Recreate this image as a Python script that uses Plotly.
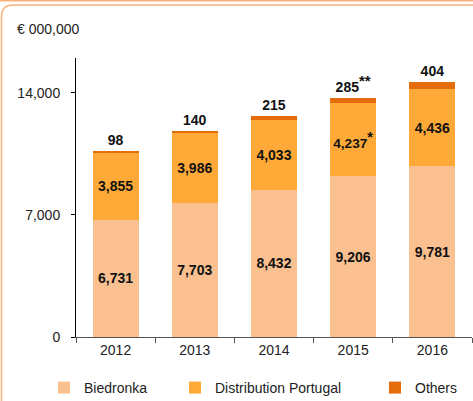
import plotly.graph_objects as go

years = ["2012", "2013", "2014", "2015", "2016"]
biedronka = [6731, 7703, 8432, 9206, 9781]
distribution_portugal = [3855, 3986, 4033, 4237, 4436]
others = [98, 140, 215, 285, 404]
dp_notes = ["", "", "", "*", ""]
others_notes = ["", "", "", "**", ""]
y_ticks = [0, 7000, 14000]
unit_label = "€ 000,000"

C_BIED = "#FAC090"
C_DP = "#FFAA38"
C_OTH = "#E46C0A"
FRAME = "#F9B27B"
FONT = "Liberation Sans, Arial, sans-serif"

W, H = 473, 401
ML, MR, MT, MB = 76, 1, 58, 64
PW, PH = W - ML - MR, H - MT - MB

def px(x):
    return (x - ML) / PW

def py(y):
    return (H - MB - y) / PH

def note(n):
    return f"<sup><span style='font-size:15px'>{n}</span></sup>" if n else ""

label_font = dict(family=FONT, size=14, color="#111", weight="bold")

fig = go.Figure()
fig.add_trace(go.Bar(
    x=years, y=biedronka, name="Biedronka", marker=dict(color=C_BIED, line=dict(width=0)),
    text=[f"{v:,}" for v in biedronka], textposition="inside", insidetextanchor="middle",
    textangle=0, textfont=label_font, legend="legend", hoverinfo="skip"))
fig.add_trace(go.Bar(
    x=years, y=distribution_portugal, name="Distribution Portugal",
    marker=dict(color=C_DP, line=dict(width=0)),
    text=[f"{v:,}" + note(n) for v, n in zip(distribution_portugal, dp_notes)],
    textposition="inside", insidetextanchor="middle", textangle=0,
    textfont=label_font, legend="legend2", hoverinfo="skip"))
fig.add_trace(go.Bar(
    x=years, y=others, name="Others", marker=dict(color=C_OTH, line=dict(width=0)),
    text=[f"{v:,}" + note(n) for v, n in zip(others, others_notes)],
    textposition="outside", textangle=0, cliponaxis=False,
    outsidetextfont=label_font, legend="legend3", hoverinfo="skip"))

leg_common = dict(orientation="h", yanchor="middle", y=py(388), xanchor="left",
                  font=dict(family=FONT, size=14, color="#222"), bgcolor="rgba(0,0,0,0)",
                  borderwidth=0, itemwidth=30)

fig.update_layout(
    width=W, height=H, margin=dict(l=ML, r=MR, t=MT, b=MB, autoexpand=False),
    paper_bgcolor="white", plot_bgcolor="white",
    barmode="stack", bargap=0.42,
    font=dict(family=FONT, size=14, color="#222"),
    xaxis=dict(type="category", showline=True, linecolor="#555", linewidth=1,
               ticks="outside", tickson="boundaries", ticklen=5, tickcolor="#555",
               showgrid=False, tickfont=dict(family=FONT, size=14, color="#222")),
    yaxis=dict(range=[0, 16000], showline=True, linecolor="#000", linewidth=1,
               ticks="outside", ticklen=4, tickcolor="#000", tickvals=y_ticks,
               tickformat=",", showgrid=False, zeroline=False, ticklabelstandoff=8,
               tickfont=dict(family=FONT, size=14, color="#222")),
    legend=dict(x=px(44), **leg_common),
    legend2=dict(x=px(175), **leg_common),
    legend3=dict(x=px(375), **leg_common),
    showlegend=True,
)

fig.add_annotation(text=unit_label, xref="paper", yref="paper", x=px(15), y=py(29),
                   xanchor="left", yanchor="middle", showarrow=False,
                   font=dict(family=FONT, size=14, color="#222"))

# frame
fig.add_shape(type="line", xref="paper", yref="paper", x0=px(0), x1=px(W), y0=py(0.8), y1=py(0.8),
              line=dict(color=FRAME, width=1.5))
fig.add_shape(type="path", xref="paper", yref="paper",
              path=(f"M {px(1.5)},{py(H + 20)} L {px(1.5)},{py(17)} "
                    f"Q {px(1.5)},{py(5)} {px(13)},{py(5)} L {px(W + 20)},{py(5)}"),
              line=dict(color=FRAME, width=1.5))

fig.write_html("out.html", config={"displayModeBar": False},
               post_script="document.body.style.margin='0';document.body.style.overflow='hidden';")
